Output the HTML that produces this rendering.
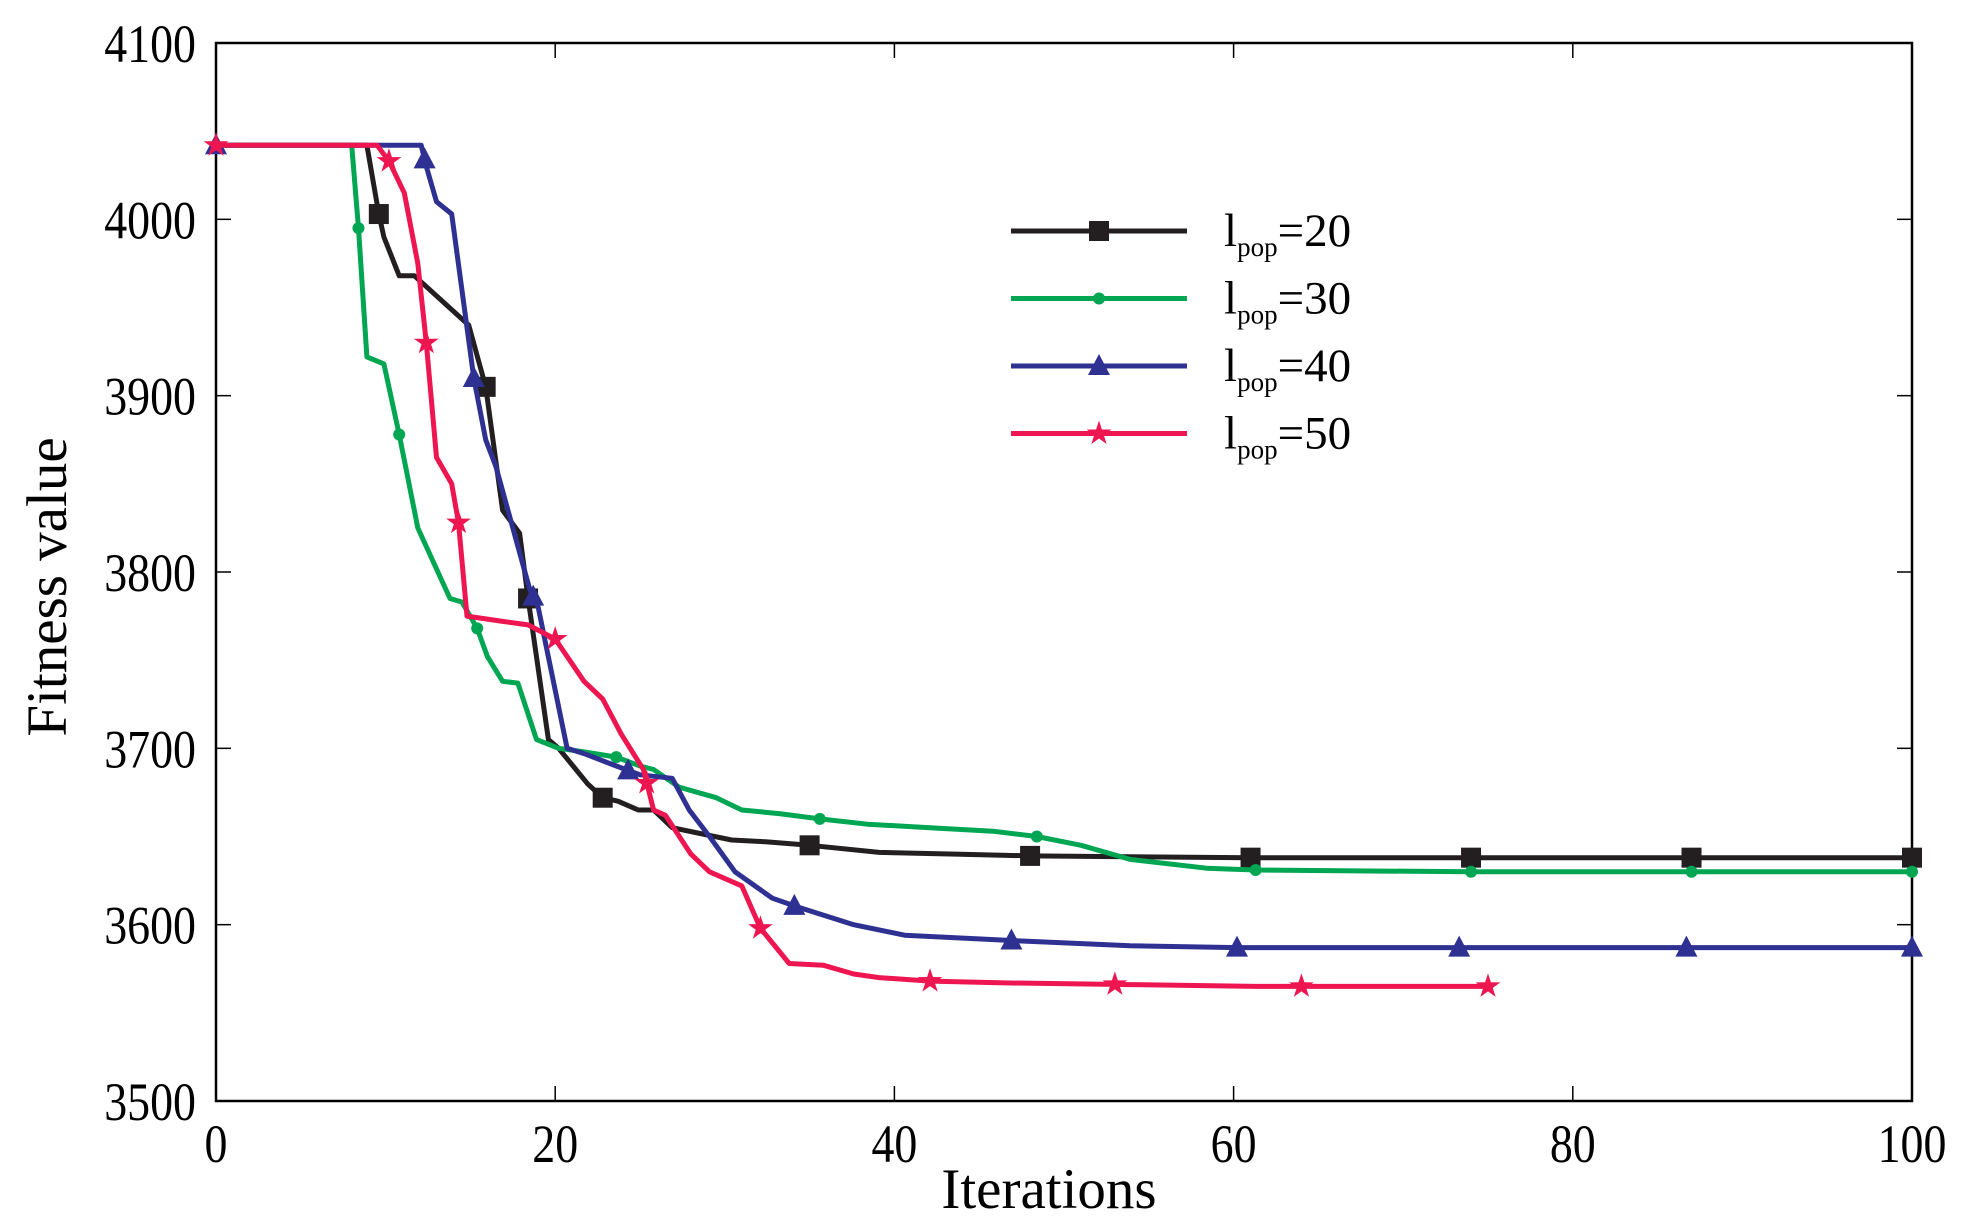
<!DOCTYPE html>
<html><head><meta charset="utf-8"><style>
html,body{margin:0;padding:0;background:#fff;}
svg{display:block;font-family:"Liberation Serif",serif;}
</style></head><body>
<svg id="chart" width="1970" height="1230" viewBox="0 0 1970 1230"></svg>
<script>
const xTicks=[0,20,40,60,80,100];
const yTicks=[3500,3600,3700,3800,3900,4000,4100];
const seriesNames=["20","30","40","50"];
const s20x=[0,8.9,9.6,9.9,10.8,11.7,14.9,15.9,16.9,17.9,18.4,19.6,20.2,21.9,22.8,23.7,24.9,25.8,26.9,28.4,30.4,32.4,35,39.1,43.6,48,61,100];
const s20y=[4042,4042,4003,3990,3968,3968,3940,3905,3835,3822,3785,3705,3700,3680,3672,3670,3665,3665,3655,3652,3648,3647,3645,3641,3640,3639,3638,3638];
const s20m=[9.6,15.9,18.4,22.8,35,48,61,74,87,100];
const s30x=[0,8.0,8.4,8.9,9.9,10.8,11.9,13.8,14.5,15.4,16,16.9,17.8,18.9,20.2,21.7,23.6,25,25.8,27.3,29.5,31,33.2,35.6,38.4,42.1,45.8,48.4,51,53.9,58.4,61.3,74,87,100];
const s30y=[4042,4042,3995,3922,3918,3878,3825,3785,3783,3768,3752,3738,3737,3705,3700,3698,3695,3690,3688,3678,3672,3665,3663,3660,3657,3655,3653,3650,3645,3637,3632,3631,3630,3630,3630];
const s30m=[8.4,10.8,15.4,23.6,35.6,48.4,61.3,74,87,100];
const s40x=[0,12.1,12.4,13,13.9,15.2,15.9,16.5,18.5,19,20.7,21.7,23.6,25,26.9,27.9,29.1,30.6,32.8,34.3,37.6,40.6,46.9,53.9,60.2,100];
const s40y=[4042,4042,4030,4010,4003,3910,3875,3860,3790,3780,3700,3697,3690,3685,3683,3665,3650,3630,3615,3610,3600,3594,3591,3588,3587,3587];
const s40m=[0,12.3,15.2,18.7,24.3,34.1,46.9,60.2,73.3,86.7,100];
const s50x=[0,9.5,10.2,11.1,11.9,12.4,13,13.9,14.3,14.8,16.9,18.4,20,21.7,22.8,23.9,25.2,25.8,26.5,28,29.1,31,32.1,33.8,35.8,37.6,39.1,42.1,46.5,53.9,61.3,75];
const s50y=[4042,4042,4033,4015,3975,3930,3865,3850,3828,3775,3772,3770,3762,3738,3728,3708,3688,3665,3662,3640,3630,3622,3598,3578,3577,3572,3570,3568,3567,3566,3565,3565];
const s50m=[0,10.2,12.4,14.3,20,25.4,32.1,42.1,53,64,75];

const L=216,R=1912,T=43,B=1101;
const X=v=>L+(v-0)/(100-0)*(R-L);
const Y=v=>B-(v-3500)/(4100-3500)*(B-T);
const NS="http://www.w3.org/2000/svg";
const svg=document.getElementById('chart');
function mk(tag,attrs,parent){const e=document.createElementNS(NS,tag);for(const k in attrs)e.setAttribute(k,attrs[k]);(parent||svg).appendChild(e);return e;}
function interp(xs,ys,x){for(let i=1;i<xs.length;i++){if(x<=xs[i]){const t=(x-xs[i-1])/((xs[i]-xs[i-1])||1);return ys[i-1]+t*(ys[i]-ys[i-1]);}}return ys[ys.length-1];}

const frame=mk('rect',{x:L,y:T,width:R-L,height:B-T,fill:'none',stroke:'#000','stroke-width':2.5});


xTicks.forEach(v=>{
  const g=mk('g',{});
  
  
  mk('line',{x1:X(v),x2:X(v),y1:B,y2:B-15,stroke:'#000','stroke-width':1.5},g);
  mk('line',{x1:X(v),x2:X(v),y1:T,y2:T+15,stroke:'#000','stroke-width':1.5},g);
  const t=mk('text',{x:0,y:0,'text-anchor':'middle','font-size':54,transform:`translate(${X(v)},1162) scale(0.85,1)`},g);t.textContent=v;
});
yTicks.forEach(v=>{
  const g=mk('g',{});
  
  
  mk('line',{x1:L,x2:L+15,y1:Y(v),y2:Y(v),stroke:'#000','stroke-width':1.5},g);
  mk('line',{x1:R,x2:R-15,y1:Y(v),y2:Y(v),stroke:'#000','stroke-width':1.5},g);
  const t=mk('text',{x:0,y:0,'text-anchor':'end','font-size':54,transform:`translate(196,${Y(v)+19}) scale(0.85,1)`},g);t.textContent=v;
});
const xt=mk('text',{x:1049,y:1208,'text-anchor':'middle','font-size':57});xt.textContent='Iterations';

const yt=mk('text',{x:0,y:0,'text-anchor':'middle','font-size':57,transform:'translate(66,587) rotate(-90)'});yt.textContent='Fitness value';


function marker(type,cx,cy,color,parent){
  const s=10;
  if(type==='sq')return mk('rect',{x:cx-s,y:cy-s,width:2*s,height:2*s,fill:color},parent);
  if(type==='ci')return mk('circle',{cx:cx,cy:cy,r:6,fill:color},parent);
  if(type==='tr')return mk('polygon',{points:`${cx},${cy-12} ${cx-11},${cy+9} ${cx+11},${cy+9}`,fill:color},parent);
  let p=[];for(let i=0;i<10;i++){const r=i%2?5:13;const a=-Math.PI/2+i*Math.PI/5;p.push((cx+r*Math.cos(a)).toFixed(1)+','+(cy+r*Math.sin(a)).toFixed(1));}
  return mk('polygon',{points:p.join(' '),fill:color},parent);
}
const S=[[s20x,s20y,s20m,'#231f20','sq'],[s30x,s30y,s30m,'#00a651','ci'],[s40x,s40y,s40m,'#2e3192','tr'],[s50x,s50y,s50m,'#ed1651','st']];
S.forEach((s,i)=>{
  const g=mk('g',{});
  
  
  const d=s[0].map((x,j)=>(j?'L':'M')+X(x).toFixed(1)+','+Y(s[1][j]).toFixed(1)).join('');
  mk('path',{d:d,fill:'none',stroke:s[3],'stroke-width':5,'stroke-linejoin':'round'},g);
  s[2].forEach(mx=>{const m=marker(s[4],X(mx),Y(interp(s[0],s[1],mx)),s[3],g);
    
    });
  const lg=mk('g',{});
  
  
  const ly=231+i*67.5;
  mk('line',{x1:1011,x2:1187,y1:ly,y2:ly,stroke:s[3],'stroke-width':5},lg);
  marker(s[4],1099,ly,s[3],lg);
  const t=mk('text',{x:1224,y:ly+15,'font-size':47},lg);
  t.innerHTML='l<tspan font-size="27" dy="10">pop</tspan><tspan dy="-10">='+seriesNames[i]+'</tspan>';
});
</script>
</body></html>
